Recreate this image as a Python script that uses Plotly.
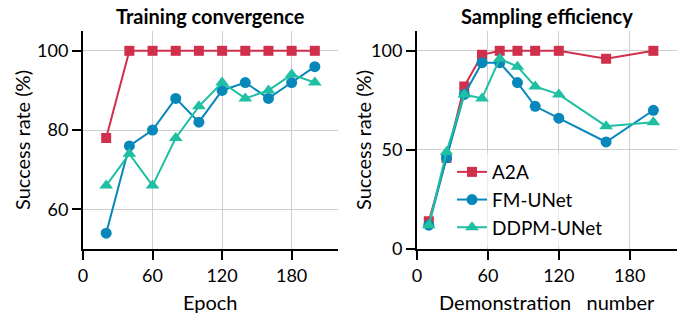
import plotly.graph_objects as go

# ---- data ----
epochs = [20, 40, 60, 80, 100, 120, 140, 160, 180, 200]
train_a2a = [78, 100, 100, 100, 100, 100, 100, 100, 100, 100]
train_fm = [54, 76, 80, 88, 82, 90, 92, 88, 92, 96]
train_ddpm = [66, 74, 66, 78, 86, 92, 88, 90, 94, 92]

demos = [10, 25, 40, 55, 70, 85, 100, 120, 160, 200]
samp_a2a = [14, 46, 82, 98, 100, 100, 100, 100, 96, 100]
samp_fm = [12, 46, 78, 94, 94, 84, 72, 66, 54, 70]
samp_ddpm = [12, 49, 78, 76, 96, 92, 82, 78, 62, 64]

x_ticks = [0, 60, 120, 180]
y_ticks_left = [60, 80, 100]
y_ticks_right = [0, 50, 100]

names = ["A2A", "FM-UNet", "DDPM-UNet"]
colors = ["#D0304C", "#0787BA", "#1FBFA2"]
symbols = ["square", "circle", "triangle-up"]
msizes = [10, 11, 12]

W, H = 682, 316
ML, MR, MT, MB = 83, 5, 31, 67
PW = W - ML - MR
PH = H - MT - MB
FONT = "Lato"

def px_x(p):
    return (p - ML) / PW

def px_y(p):
    return 1 - (p - MT) / PH

fig = go.Figure()

for i, ys in enumerate([train_a2a, train_fm, train_ddpm]):
    fig.add_trace(go.Scatter(
        x=epochs, y=ys, mode="lines+markers", name=names[i], showlegend=False,
        line=dict(color=colors[i], width=2),
        marker=dict(symbol=symbols[i], size=msizes[i], color=colors[i]),
        xaxis="x", yaxis="y"))

for i, ys in enumerate([samp_a2a, samp_fm, samp_ddpm]):
    fig.add_trace(go.Scatter(
        x=demos, y=ys, mode="lines+markers", name=names[i],
        line=dict(color=colors[i], width=2),
        marker=dict(symbol=symbols[i], size=msizes[i], color=colors[i]),
        xaxis="x2", yaxis="y2"))

dom_x1 = [px_x(83), px_x(338)]
dom_x2 = [px_x(417), px_x(677)]

tickfont = dict(family=FONT, size=18, color="black")
TITLE_SIZE = 20

def xax(domain, anchor):
    return dict(domain=domain, anchor=anchor, range=[0, 220], tickvals=x_ticks,
                ticks="outside", ticklen=9, tickwidth=2, tickcolor="black",
                showline=True, linewidth=2, linecolor="black",
                showgrid=True, gridcolor="#CFCFCF", gridwidth=1,
                zeroline=False, tickfont=tickfont, automargin=False)

def yax(anchor, rng, tv):
    return dict(domain=[0, 1], anchor=anchor, range=rng, tickvals=tv,
                ticks="outside", ticklen=9, tickwidth=2, tickcolor="black",
                showline=True, linewidth=2, linecolor="black",
                showgrid=True, gridcolor="#CFCFCF", gridwidth=1,
                zeroline=False, tickfont=tickfont, automargin=False)

def mirror_x(over, anchor):
    return dict(overlaying=over, anchor=anchor, side="top", range=[0, 220],
                tickvals=x_ticks, ticks="inside", ticklen=8, tickwidth=2,
                tickcolor="black", showticklabels=False, showgrid=False,
                showline=True, linewidth=2, linecolor="black", zeroline=False,
                automargin=False)

def mirror_y(over, anchor, rng, tv):
    return dict(overlaying=over, anchor=anchor, side="right", range=rng,
                tickvals=tv, ticks="inside", ticklen=8, tickwidth=2,
                tickcolor="black", showticklabels=False, showgrid=False,
                showline=True, linewidth=2, linecolor="black", zeroline=False,
                automargin=False)

def text_ann(text, x, y, size, angle=0):
    return dict(text=text, x=x, y=y, xref="paper", yref="paper",
                showarrow=False, xanchor="center", yanchor="middle",
                textangle=angle, font=dict(family=FONT, size=size, color="black"))

mid_y = px_y(140)

fig.update_layout(
    width=W, height=H,
    margin=dict(l=ML, r=MR, t=MT, b=MB, autoexpand=False),
    plot_bgcolor="white", paper_bgcolor="white",
    font=dict(family=FONT, color="black"),
    xaxis=xax(dom_x1, "y"),
    yaxis=yax("x", [50, 105], y_ticks_left),
    xaxis2=xax(dom_x2, "y2"),
    yaxis2=yax("x2", [0, 110], y_ticks_right),
    xaxis3=mirror_x("x", "y"),
    yaxis3=mirror_y("y", "x", [50, 105], y_ticks_left),
    xaxis4=mirror_x("x2", "y2"),
    yaxis4=mirror_y("y2", "x2", [0, 110], y_ticks_right),
    legend=dict(x=px_x(452), y=px_y(153), xanchor="left", yanchor="top",
                bgcolor="rgba(255,255,255,0.6)", borderwidth=0,
                font=dict(family=FONT, size=19, color="black"),
                tracegroupgap=0),
    annotations=[
        text_ann("<b>Training convergence</b>", (dom_x1[0] + dom_x1[1]) / 2, px_y(16), TITLE_SIZE),
        text_ann("<b>Sampling efficiency</b>", (dom_x2[0] + dom_x2[1]) / 2, px_y(16), TITLE_SIZE),
        text_ann("Epoch", (dom_x1[0] + dom_x1[1]) / 2, px_y(302), TITLE_SIZE),
        text_ann("Demonstration\u00a0\u00a0\u00a0number", (dom_x2[0] + dom_x2[1]) / 2, px_y(302), TITLE_SIZE),
        text_ann("Success rate (%)", px_x(22), mid_y, TITLE_SIZE, -90),
        text_ann("Success rate (%)", px_x(363), mid_y, TITLE_SIZE, -90),
    ],
)

fig.write_html("out.html", config={"displayModeBar": False},
               post_script="document.body.style.margin='0px';")
